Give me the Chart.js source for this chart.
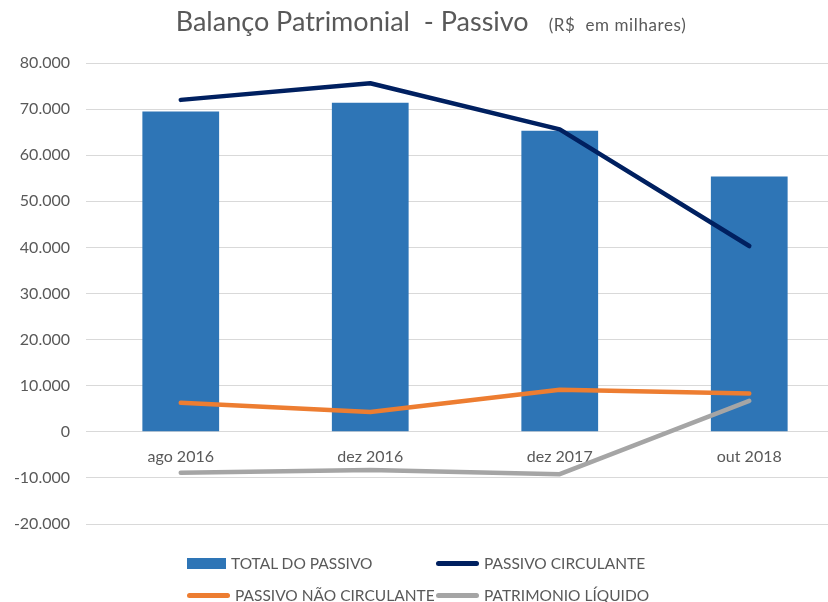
<!DOCTYPE html>
<html><head><meta charset="utf-8">
<script src="https://cdn.jsdelivr.net/npm/chart.js@4/dist/chart.umd.min.js"></script>
<style>
html,body{margin:0;padding:0;width:828px;height:602px;overflow:hidden;background:#fff;font-family:Lato,'Open Sans',sans-serif;}
#wrap{position:absolute;left:0;top:0;width:846px;height:602px;}
#title{position:absolute;left:0;top:4px;width:862px;text-align:center;color:#595959;white-space:pre;}
#title .main{font-size:27px;}
#title .sub{font-size:17px;margin-left:20px;letter-spacing:0.6px;}
.li{position:absolute;height:20px;display:flex;align-items:center;color:#595959;font-size:15.5px;white-space:pre;}
.mk{display:inline-block;margin-right:5px;}
</style></head><body>
<div id="wrap"><canvas id="c"></canvas></div>
<div id="title"><span class="main">Balanço Patrimonial  - Passivo</span><span class="sub">(R$  em milhares)</span></div>
<div id="legend"></div>
<script>
const categories = ['ago 2016', 'dez 2016', 'dez 2017', 'out 2018'];
const totalPassivo = [69500, 71400, 65300, 55400];
const passivoCirculante = [72000, 75600, 65600, 40300];
const passivoNaoCirculante = [6300, 4300, 9100, 8300];
const patrimonioLiquido = [-8900, -8300, -9200, 6700];
const seriesLabels = ['TOTAL DO PASSIVO', 'PASSIVO CIRCULANTE', 'PASSIVO NÃO CIRCULANTE', 'PATRIMONIO LÍQUIDO'];
const yMin = -20000, yMax = 80000, yStep = 10000;

const colors = ['#2E75B6', '#002060', '#ED7D31', '#A5A5A5'];
const textColor = '#595959';
const fontFamily = 'Lato, "Open Sans", sans-serif';

function fmt(v) {
  const s = Math.abs(v).toString().replace(/\B(?=(\d{3})+(?!\d))/g, '.');
  return (v < 0 ? '-' : '') + s;
}

const lineDs = (label, data, color) => ({
  type: 'line', label, data, borderColor: color, backgroundColor: color,
  borderWidth: 4.5, pointRadius: 0, tension: 0, borderCapStyle: 'round',
  borderJoinStyle: 'round', order: 1
});

new Chart(document.getElementById('c'), {
  data: {
    labels: categories,
    datasets: [
      { type: 'bar', label: seriesLabels[0], data: totalPassivo, backgroundColor: colors[0],
        borderWidth: 0, categoryPercentage: 1, barPercentage: 0.405, order: 2 },
      lineDs(seriesLabels[1], passivoCirculante, colors[1]),
      lineDs(seriesLabels[2], passivoNaoCirculante, colors[2]),
      lineDs(seriesLabels[3], patrimonioLiquido, colors[3])
    ]
  },
  options: {
    responsive: true, maintainAspectRatio: false, animation: false,
    layout: { padding: { left: 0, right: 2, top: 63, bottom: 78 } },
    plugins: { legend: { display: false }, title: { display: false }, tooltip: { enabled: false } },
    scales: {
      x: {
        type: 'category', position: { y: 0 }, offset: true,
        grid: { display: false }, border: { display: false },
        ticks: { color: textColor, font: { family: fontFamily, size: 16 }, padding: 7, maxRotation: 0 }
      },
      y: {
        min: yMin, max: yMax,
        grid: { color: '#D9D9D9', lineWidth: 1, drawTicks: false },
        border: { display: false },
        ticks: { stepSize: yStep, color: textColor, font: { family: fontFamily, size: 16 }, padding: 16,
          callback: v => fmt(v) },
        afterFit: s => { s.width = 86; }
      }
    }
  }
});

// legend (HTML, built from the series labels/colors)
const legend = document.getElementById('legend');
const cols = [187, 436], rows = [553, 585];
seriesLabels.forEach((lab, i) => {
  const d = document.createElement('div');
  d.className = 'li';
  d.style.left = cols[i % 2] + 'px';
  d.style.top = rows[Math.floor(i / 2)] + 'px';
  const m = document.createElement('span');
  m.className = 'mk';
  if (i === 0) { m.style.width = '39px'; m.style.height = '11px'; m.style.background = colors[i]; }
  else { m.style.width = '43px'; m.style.height = '5px'; m.style.borderRadius = '3px'; m.style.background = colors[i]; }
  d.appendChild(m);
  d.appendChild(document.createTextNode(lab));
  legend.appendChild(d);
});
</script>
</body></html>
